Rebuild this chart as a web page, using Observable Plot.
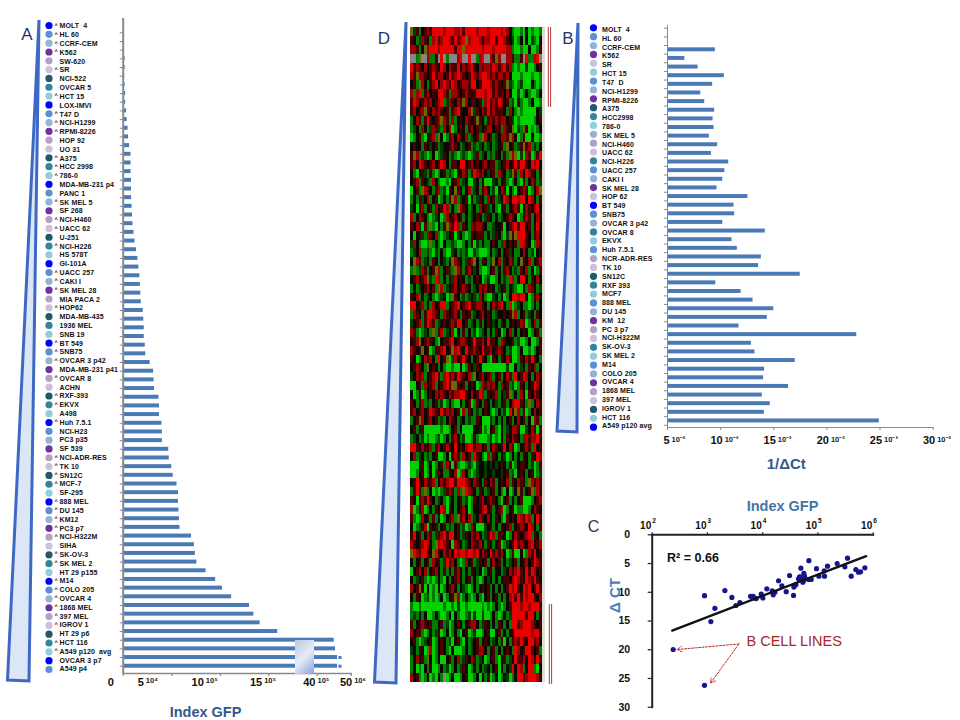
<!DOCTYPE html>
<html>
<head>
<meta charset="utf-8">
<script src="https://cdn.jsdelivr.net/npm/d3@7"></script>
<script src="https://cdn.jsdelivr.net/npm/@observablehq/plot@0.6"></script>
<style>
html,body{margin:0;padding:0;background:#fff}
#root{position:relative;width:960px;height:720px;overflow:hidden;background:#fff}
#root svg{position:absolute;left:0;top:0;overflow:visible}
#patch{position:absolute;left:295px;top:640px;width:19px;height:34px;background:linear-gradient(135deg,#b8c8e2,#e6ecf7 50%,#86a2de)}
</style>
</head>
<body>
<div id="root">
<svg id="decor" width="960" height="720">
  <g fill="#dbe6f7" stroke="#3d69c4" stroke-width="3" stroke-linejoin="miter">
    <polygon points="39,20 7.5,680 29,681"></polygon>
    <polygon points="578,23 557,431 577,432"></polygon>
    <polygon points="406,22 374.5,682 396,683"></polygon>
  </g>
  <g stroke="#b53a3a" stroke-width="1">
    <line x1="548.3" x2="548.3" y1="27" y2="107"></line><line x1="550.6" x2="550.6" y1="27" y2="107"></line>
    <line x1="549.3" x2="549.3" y1="604" y2="684"></line><line x1="551.6" x2="551.6" y1="604" y2="684"></line>
  </g>
</svg>
</div>
<script>
// ---------- Panel A data ----------
const namesA = ["MOLT  4","HL 60","CCRF-CEM","K562","SW-620","SR","NCI-522","OVCAR 5","HCT 15","LOX-IMVI","T47 D","NCI-H1299","RPMI-8226","HOP 92","UO 31","A375","HCC 2998","786-0","MDA-MB-231 p4","PANC 1","SK MEL 5","SF 268","NCI-H460","UACC 62","U-251","NCI-H226","HS 578T","GI-101A","UACC 257","CAKI I","SK MEL 28","MIA PACA 2","HOP62","MDA-MB-435","1936 MEL","SNB 19","BT 549","SNB75","OVCAR 3 p42","MDA-MB-231 p41","OVCAR 8","ACHN","RXF-393","EKVX","A498","Huh 7.5.1","NCI-H23","PC3 p35","SF 539","NCI-ADR-RES","TK 10","SN12C","MCF-7","SF-295","888 MEL","DU 145","KM12","PC3 p7","NCI-H322M","SIHA","SK-OV-3","SK MEL 2","HT 29 p155","M14","COLO 205","OVCAR 4","1868 MEL","397 MEL","IGROV 1","HT 29 p6","HCT 116","A549 p120  avg","OVCAR 3 p7","A549 p4"];
const valuesA = [0.02,0.03,0.03,0.2,0.2,0.15,0.2,0.25,0.25,0.35,0.4,0.5,0.55,0.65,0.8,0.8,0.8,0.85,0.85,0.85,0.9,0.95,1.0,1.1,1.2,1.35,1.5,1.6,1.7,1.75,1.8,1.85,2.05,2.1,2.15,2.15,2.25,2.3,2.75,3.1,3.15,3.2,3.65,3.7,3.7,3.95,4.0,4.0,4.65,4.7,4.95,5.1,5.5,5.65,5.65,5.7,5.75,5.8,7.0,7.3,7.4,7.55,8.5,9.5,10.2,11.15,13.0,13.45,14.1,19.6,45,45.4,46,46];
const outlierRowsA = ["OVCAR 3 p7","A549 p4"];
const outlierValuesA = [46.7,46.7];
const unmarkedA = ["SW-620","NCI-522","OVCAR 5","LOX-IMVI","HOP 92","UO 31","MDA-MB-231 p4","PANC 1","SF 268","U-251","HS 578T","GI-101A","MIA PACA 2","MDA-MB-435","1936 MEL","SNB 19","MDA-MB-231 p41","ACHN","A498","NCI-H23","PC3 p35","SF 539","SF-295","SIHA","HT 29 p155","HT 29 p6","OVCAR 3 p7","A549 p4"];
const ticksA = [0,5,10,15,40,50];
const tickBigA = ["0","5","10","15","40","50"];
const tickSmallA = ["","10⁴","10⁵","10⁵","10⁵","10⁶"];

// ---------- Panel B data ----------
const namesB = ["MOLT  4","HL 60","CCRF-CEM","K562","SR","HCT 15","T47  D","NCI-H1299","RPMI-8226","A375","HCC2998","786-0","SK MEL 5","NCI-H460","UACC 62","NCI-H226","UACC 257","CAKI I","SK MEL 28","HOP 62","BT 549","SNB75","OVCAR 3 p42","OVCAR 8","EKVX","Huh 7.5.1","NCR-ADR-RES","TK 10","SN12C","RXF 393","MCF7","888 MEL","DU 145","KM  12","PC 3 p7","NCI-H322M","SK-OV-3","SK MEL 2","M14","COLO 205","OVCAR 4","1868 MEL","397 MEL","IGROV 1","HCT 116","A549 p120 avg"];
const valuesB = [5.0,5.0,9.5,6.63,7.88,10.35,9.25,8.13,8.5,9.44,9.29,9.38,8.94,9.72,9.13,10.76,10.4,10.2,9.66,12.57,11.26,11.32,10.2,14.2,11.07,11.57,13.83,13.57,17.49,9.54,11.92,13.05,15.0,14.39,11.73,22.81,12.89,13.23,17.02,14.14,14.04,16.39,13.92,14.67,14.11,24.93];
const groupB = [0,1,2,3,5,8,1,2,3,6,7,8,2,4,5,7,1,2,3,5,0,1,2,7,8,1,4,5,6,7,8,1,2,3,4,5,7,8,1,2,3,4,5,6,8,0];
const ticksB = [5,10,15,20,25,30];

// ---------- Panel C data ----------
const gfpC = [885,1153,1362,2066,2767,3268,3864,6026,6730,7015,7621,9397,10070,11890,14860,15490,16600,19360,22230,26610,30620,36140,36640,39810,46450,49090,53330,54830,55590,57150,48420,44560,67610,68550,75510,94190,104000,129700,131500,148900,222800,306900,342800,399900,485300,543300,590200,706300,240,885];
const dctC = [10.6,15.1,12.8,9.7,10.9,12.3,11.8,10.7,10.7,11.0,11.1,10.3,11.0,9.4,9.75,10.45,10.0,8.0,8.9,9.9,7.1,10.55,9.1,8.7,7.3,5.8,8.24,7.95,6.7,7.2,7.37,7.66,7.78,4.5,7.78,5.9,7.2,6.27,7.2,5.46,5.0,5.57,4.06,7.2,6.04,6.5,6.44,5.75,19.96,26.2];
const trendGfp = [230,746000];
const trendDct = [16.66,3.71];
const ticksCx = [1e2,1e3,1e4,1e5,1e6];
const ticksCy = [0,5,10,15,20,25,30];
const expCx = ["2","3","4","5","6"];
const bCellArrowFrom = [3704,19.0];
const bCellArrowTo = [[283,19.96],[1137,25.8]];

// ---------- Panel D data: expression levels read by eye, one row per cell line ----------
const heatRows = [
"yedgkdrd RRRRrRRR rrRdRRRR rRRRrRRR RrRrkgGG gGkGgGGg",
"dkgerdkg rRdrRRrd RdrRyrRR RrdrrRRd RRrdkeGg kGkGegGk",
"rrdgkyrR RRrRRRRR dRRyRRRR RRrRRRrR RRRrrgGG gGGkGGgd",
"aagyaarg gdaRagaa arRaaRaa grRaardy raarrdgg daRggrRa",
"Rdrdkrkd rdkRrkrd dRkrdrRd krdrrdRr drRdrgGg GGeGGgkd",
"rdyrrdkd RdrrkdRd rRrdkdRr drRRrdrd rrdrkGGG gGGGgGGg",
"kdgyrkgd rRkrRrdR rkdrrdRR kdRRRrdr dkdyegGg eGGGkgGg",
"rgrRgdrk dkRRrdgr rdkdrdkd RRRrRRdr ddkrkGGe GgkgGGgk",
"dRrkdrdr kdrRgerd krdyrkdd kdgrRdrd RrkdgeGd gGGgkGGg",
"drkdrydk rdrdkdgd rRdkkrye dkrdRdrd ddkgrkgG gGGGGGke",
"gkrdgdRd kdryrdgr gkdkrdkd ydkgdrdr drrkdeGg GGGGGgkd",
"gekgrkge rdegrkrG gkdkgdrk dekdrrkd dgrdkyGe gydGgGgk",
"GgkdgGkd rgykGgdr krdkrgek dgyrkdge krrdyrkG gdGGkGGg",
"kdkkgdke kdgekkdr dkgekdge gekgekge kdgykdge dydrgegk",
"dyrgegGg kGgedkge gGgegGge dgekgegd kgdgyryG eGrdGgdR",
"drkRrdkd rkdRrkgd dkRRkdrk dkdrkddg ekdrkdRd RRdkRrRk",
"kgGkdegd gGgkdgeg GdkrdgdR rdrkekdg rdkgeydg rkRrdkgd",
"kdrgdkeg rkgGGgGk drgekGGe kgkGGGek gkdgGgkg Gdgkrdge",
"Gkdgyrdk gdrgeGdk ydkgkrge kgdrkgeG krdGkgGk drdGgkry",
"gkgdekrg kdGgkgdy rgekdGkg edkgrkdg ekRrkRRr RRkRrkgd",
"ekGdrgkd grkdRrgk gyrdkgek grkdegkg Gkdgkdrd GkrdkrRk",
"rgkrdkgG gekGgrkd rkdgkgek dkgedkgk gekdrdkG gdrdgkrd",
"dkreGdgy gGkgdyrd Rrgdkgrd rrdkggek kdGkdrRd RRkdgkRk",
"kGkdegrd krgGgekd GekgGgdk dddgkged kgGeydyR RRdkgdrk",
"erkgGGgy gkgGkgge gGGgkgdG egkggkdk gerkdkdg RrdkGgrd",
"gekrggeg GegkgGGe kgegeGGe gGGGgkge kgkdekgg krkgeGkd",
"kyrdgekg dkgkegky rdkgedry kgdkgeyk rgdkrdgk ydkrgkdr",
"gygerdgk dyrgkdeg yrdgdrke kgGGgkdg kgdrkgeg dkrgkGgd",
"kdrkdrye gRrgkgde rkdkgegk dkGgeGGg kgegRrgk RRkgdkrk",
"gkgekdrk dgyrgekd rkdrdkge krdrkdkg ekdgkegG Gkgrdkge",
"dkrgkgek gGgekGgy dkgegeke grkgGGek gkGgkRRr RRkGgdrk",
"RRkdrgkg rkdRRgkd rRkdrRkd rrdkgkrd rRkgRGge kggGgkgk",
"grdkgdRR rdkgrdkd rkgdkdge kdrkdkge kkdkdyrg kdgekgdk",
"ekdrgdRr dgekdkdr dRRkdgek gdgkdkek gdkgkdkd rdGgkrgd",
"rdgGgekg ygdrgekr Gkgdgkge Ggekgkgd kGgkrgkg kdkGgkdg",
"kdrykdrd kgGkddrR kdrrdkdR ddrkRddk grdkkdge GGgkGGgd",
"rdkdykdG gddrRkdy rRdkRddr dkRddrkd rdkgeGGg kGGgGgkd",
"dkGgkrdr kgRkdyGe rkdRdkgk dRdkgGdk gdkrdGGg dkrdRdkg",
"kdrdkgyk dkgkgGGg GGkGgdke dkGGGGGG GGGeGGkg ekgdkrgk",
"ekrdrgkd rRdgrRdr dRrdkrgy kdrkdrgk dgkrdgRk dRrkgkrd",
"GGkdgrkd rgkdrRdy ydkdgkdk Ggrdrdrk grkdgeGg dkgkdRrk",
"kGgdGgkd krdrdkrd rrRRdkrk dRrgdkdr gkedygkg rkGdkrdk",
"dkgdrgeg kdgeGgkg GGkgkdGg dkgdkgke gkdgkrRR dkgygkrd",
"drkdrkdR rdkRdrdr kdGrgdkg egkdkgGg kgeGRdyr gdGgkrkd",
"gkdyrkdr kdgegkrd kgekgegg dkGGGegk gkgkdgkr kdgkGrdg",
"kdgkdGGG GGGgGGgk dgkGGGGk kdGgGkdg Gkgekrrd GGekrdGd",
"gekgeGgG GgeGgkgd rkgeGGgd gGGGgeGg Gkgdkrdk grrdrrRd",
"RRdkrdkr gdrkdrdk RkdkrRRd rrkdgkrd kdRkrdGg kdrdgRkd",
"krgekgeg kdGGgkGd rdgrkdgR dkgGrgdk gkeGgkgk gdkgdkRr",
"GGGkdGgk GgkdgrkG dgGGgegG ekkekeke kdkgdGgk ddkgeGgd",
"GGgkdGgk Gedkggdk rGgrkgGg ekkekkek kekdgeGk dkgkdGge",
"kdRdkrdd rgkrdrRR dRRRrdkr dkgdkrdg kdkrgdkr dkgyrdrd",
"gdRdgygk GgGgedrd grgyRrdk gdkgekdg kgGkGgky dgkdygrd",
"dkGdrdRd kgekgGek gkdgeGgd kdrkdrdk gGkdgkgk dGGGgkdr",
"rGgdrGgk gdkRrGdk gkdrkGgk kdrRkdgk drGgkdGg gGGgkrdk",
"dgGgrkdg dgkGgkdr gydrkrge krdkrkgd kgGdkdkR rdRrgkRd",
"kGgedrGd kdgkdgeg kdgeGgrk GGGekdgk gdkdrgkd rdkRrkgd",
"dRkdgkrd gedrRdRR kdgedkrd rkgedRrg ddkGgkrd kdrRgdkg",
"rdkdrRrk gyrRrdkG rdkgekrd drkgdkgk dGgekdRd rdkrRkdr",
"yRrdRRdk yRdkrdrk RrRRrRRr RkrdkRdr drkGgdGG kGgrdRkd",
"kgkdgkdg rkdgeRdr kgGgrkdg edkdgkrk dgkgekdg kdrkdRrd",
"Gkdrkrgk drkgdgkg drkgkgdk ekGgkdgk kgekrdrR dkRdRrkd",
"kgekdgGg GgkgGkgk drkgkdgk gGgkekgk gkddkrRr dkRrdRdk",
"rkdydGkG gGkGgkdr kgkegGgk gkdkdgkg kgkdRrRd kRrRkdRd",
"kgdkGgeG gGgkGgkd yrGgkgGg kgGkdgkd gkgkrRdR dRrRRdkr",
"gGGgGGGG GGGGgGGg GeGGgGGG GGgGgGgk gGgkdRRR rRRrRRRd",
"gegkgkGG gkgGGgkG kgGGgeGe GGeGGgkg GgkgeRRR RRdRRkgd",
"dgkdrdkd ggkdgeGg kdkgkdrr kgedkgkg dkgkgRRd rRRRrdkd",
"rkddgGgk gedGgkGg kgGkdGge GGgkdGGk dgkgkdRR RRRRrRRd",
"kdgGgekd GgkdkgeG kdgGkgek dgkdkgek gdGkgdrd RdkRRdrk",
"ekgdkGyr GgkdkgGk GGGgkgek drrkgkdg kgkdkgRr kdRRdkdg",
"gkrkdgyk GgkGGkdg krgedkrd gekGgkdg GkdgekRd drkRrdRd",
"gkGgGkgd GGgkgeGg kgedkGgk gkgekgkd GkgkeRkR rgkRRgGk",
"rkdgGgkG gGkgaGgk GGgkdGGg kGkgdGgk GgkeGgkR RdrRRRrd"
];

// ---------- styles ----------
const heatPalette = {R:"#e80000",r:"#a00000",d:"#4a0000",k:"#0c0600",e:"#003e00",g:"#007c00",G:"#00d200",y:"#6a6a00",a:"#858585",p:"#dcdcd0"};
const dotPalette = ["#0000ff","#5b8fd6","#95b3d7","#7030a0","#b3a2c7","#ccc1da","#215968","#31859c","#92cddc"];
const barColor = "#4a7ab5", axisGray = "#8a8a8a";
const labelFont = "Liberation Sans";
const annotations = [
  {t:"A",x:26.5,y:27.5,s:17,c:"#1f3864",w:"normal"},
  {t:"B",x:567.5,y:31,s:17,c:"#1f3864",w:"normal"},
  {t:"D",x:383.5,y:31,s:17,c:"#1f3864",w:"normal"},
  {t:"C",x:593,y:520,s:16,c:"#1f3864",w:"normal"},
  {t:"Index GFP",x:205,y:706,s:14.5,c:"#33598f",w:"bold"},
  {t:"1/ΔCt",x:785.7,y:457.5,s:15,c:"#33598f",w:"bold"},
  {t:"Index GFP",x:782,y:500,s:14.5,c:"#4474a8",w:"bold"},
  {t:"Δ CT",x:609,y:595,s:15,c:"#4d7eb8",w:"bold",rotate:-90}
];

const root = document.getElementById("root");
const layer = (opts, css = {}) => {
  const svg = Plot.plot({width:960,height:720,margin:0,
    style:{background:"transparent",fontFamily:labelFont,...css},
    x:{axis:null},y:{axis:null},...opts});
  root.appendChild(svg);
  return svg;
};

// ---------- D: heat map ----------
const heatCells = heatRows.flatMap((row,r) => {
  const codes = row.replace(/ /g,"").padEnd(48,"k").slice(0,48) + "p";
  return Array.from(codes,(code,c)=>({row:r,col:c,code}));
});
layer({
  x:{axis:null,type:"band",domain:d3.range(49),range:[410.3,544.5],padding:0,round:false},
  y:{axis:null,type:"band",domain:d3.range(heatRows.length),range:[27.3,681.7],padding:0,round:false},
  color:{type:"identity"},
  marks:[Plot.cell(heatCells,{x:"col",y:"row",fill:d=>heatPalette[d.code],shapeRendering:"crispEdges"})]
},{filter:"blur(0.5px)"});

// ---------- rows of coloured dots and names ----------
function nameRows(names, dotX, textX, dotRange, textRange, dotFill, dotRx, extra){
  layer({marginLeft:dotX,
    y:{axis:null,type:"band",domain:names,range:dotRange,padding:0,round:false},
    color:{type:"identity"},
    marks:[Plot.dot(names,{y:d=>d,frameAnchor:"left",r:dotRx,fill:(d,i)=>dotFill(i),stroke:null})]});
  layer({marginLeft:textX,
    y:{axis:null,type:"band",domain:names,range:textRange,padding:0,round:false},
    marks:[
      Plot.text(names,{y:d=>d,frameAnchor:"left",text:d=>d,textAnchor:"start",fontSize:7,fontWeight:"bold",fill:"#111"}),
      ...(extra||[])
    ]},{letterSpacing:"0.1px"});
}
nameRows(namesA,48.5,59,[20.6,673.4],[21.3,673.1],i=>dotPalette[i%9],3.6,
  [Plot.text(namesA.filter(n=>!unmarkedA.includes(n)),{y:d=>d,frameAnchor:"left",text:()=>"^",dx:-5,dy:-1,textAnchor:"start",fontSize:5.5,fontWeight:"bold",fill:"#111"})]);
nameRows(namesB,593,601.5,[22.9,431.1],[24.9,430.1],i=>dotPalette[groupB[i]],3.6);

// ---------- A: bars ----------
const offsetsA = [-9.4,-28.4,-16.7,-6.6,-1.7,1];
layer({
  marginLeft:122.7,marginRight:960-350.7,marginTop:18,marginBottom:720-673,
  x:{axis:null,type:"linear",domain:ticksA,range:[122.7,171.7,220,268.3,316.7,350.7]},
  y:{axis:null,type:"band",domain:namesA,range:[25.63,672.4],padding:0.54,align:0.5,round:false},
  marks:[
    Plot.barX(namesA,{y:d=>d,x1:()=>0,x2:(d,i)=>valuesA[i],fill:barColor}),
    Plot.dot(outlierRowsA,{y:d=>d,x:(d,i)=>outlierValuesA[i],symbol:"square",r:1.7,fill:barColor,stroke:null}),
    Plot.axisY({anchor:"left",ticks:namesA,tickSize:3,tickFormat:()=>"",label:null,stroke:axisGray,strokeWidth:1}),
    Plot.axisX({anchor:"bottom",ticks:ticksA,tickSize:3,tickFormat:()=>"",label:null,stroke:axisGray,strokeWidth:1.2}),
    Plot.ruleX([0],{stroke:axisGray,strokeWidth:2}),
    Plot.frame({anchor:"bottom",stroke:axisGray,strokeWidth:1.5}),
    ...ticksA.map((t,i)=>Plot.text([t],{x:d=>d,frameAnchor:"bottom",text:()=>tickBigA[i],dx:offsetsA[i],dy:12,textAnchor:"end",fontSize:11,fontWeight:"bold",fill:"#111"})),
    ...ticksA.map((t,i)=>Plot.text([t],{x:d=>d,frameAnchor:"bottom",text:()=>tickSmallA[i],dx:offsetsA[i]+2,dy:9.5,textAnchor:"start",fontSize:7.5,fontWeight:"bold",fill:"#222"}))
  ]
});

// ---------- B: bars ----------
layer({
  marginLeft:667,marginRight:960-932.7,marginTop:25,marginBottom:720-427,
  x:{axis:null,type:"linear",domain:[5,30],range:[667,932.7]},
  y:{axis:null,type:"band",domain:namesB,range:[25.4,427.1],padding:0.54,align:0.5,round:false},
  marks:[
    Plot.barX(namesB,{y:d=>d,x1:()=>5,x2:(d,i)=>valuesB[i],fill:barColor}),
    Plot.axisY({anchor:"left",ticks:namesB,tickSize:3,dy:4.36,tickFormat:()=>"",label:null,stroke:axisGray,strokeWidth:1}),
    Plot.axisY({anchor:"left",ticks:namesB.slice(0,1),tickSize:3,dy:-4.36,tickFormat:()=>"",label:null,stroke:axisGray,strokeWidth:1}),
    Plot.axisX({anchor:"bottom",ticks:ticksB,tickSize:3,tickFormat:()=>"",label:null,stroke:axisGray,strokeWidth:1}),
    Plot.ruleX([5],{stroke:axisGray,strokeWidth:1}),
    Plot.frame({anchor:"bottom",stroke:axisGray,strokeWidth:1}),
    Plot.text(ticksB,{x:d=>d,frameAnchor:"bottom",text:d=>String(d),dx:2,dy:16,textAnchor:"end",fontSize:11,fontWeight:"bold",fill:"#111"}),
    Plot.text(ticksB,{x:d=>d,frameAnchor:"bottom",text:()=>"10⁻²",dx:4,dy:14,textAnchor:"start",fontSize:7.5,fontWeight:"bold",fill:"#222"})
  ]
});

// ---------- C: scatter ----------
const axisDark = "#222";
layer({
  marginLeft:651.7,marginRight:960-872.7,marginTop:534.3,marginBottom:720-706.7,
  x:{axis:null,type:"log",domain:[1e2,1e6],range:[651.7,872.7]},
  y:{axis:null,type:"linear",domain:[0,30],range:[534.3,706.7]},
  marks:[
    Plot.frame({anchor:"left",stroke:axisDark,strokeWidth:2}),
    Plot.frame({anchor:"top",stroke:axisDark,strokeWidth:2}),
    Plot.axisX({anchor:"top",ticks:ticksCx,tickSize:3,tickFormat:()=>"",label:null,stroke:axisDark,strokeWidth:1.2}),
    Plot.axisY({anchor:"left",ticks:ticksCy,tickSize:4,tickPadding:18,label:null,stroke:axisDark,strokeWidth:1.2,fontSize:10.5,fontWeight:"bold",color:"#111"}),
    Plot.text(ticksCx,{x:d=>d,frameAnchor:"top",text:()=>"10",dx:-1,dy:-13,textAnchor:"end",fontSize:10,fontWeight:"bold",fill:"#111"}),
    Plot.text(ticksCx,{x:d=>d,frameAnchor:"top",text:(d,i)=>expCx[i],dx:0,dy:-16,textAnchor:"start",fontSize:6.5,fontWeight:"bold",fill:"#111"}),
    Plot.dot(gfpC,{x:d=>d,y:(d,i)=>dctC[i],r:2.6,fill:"#16168c",stroke:null}),
    Plot.line(trendGfp,{x:d=>d,y:(d,i)=>trendDct[i],stroke:"#111",strokeWidth:2.4}),
    Plot.text(["R² = 0.66"],{x:()=>186,y:()=>4.0,textAnchor:"start",fontSize:12.5,fontWeight:"bold",fill:"#111"}),
    Plot.text(["B CELL LINES"],{x:()=>5093,y:()=>18.5,textAnchor:"start",fontSize:14.5,fill:"#a5282a",fontFamily:labelFont}),
    Plot.arrow(bCellArrowTo,{x1:()=>bCellArrowFrom[0],y1:()=>bCellArrowFrom[1],x2:d=>d[0],y2:d=>d[1],stroke:"#c0282a",strokeWidth:1,strokeDasharray:"2,1.5",headLength:8,bend:0})
  ]
});

// ---------- panel letters and axis titles ----------
layer({
  marks:[
    Plot.text(annotations,{frameAnchor:"top-left",text:"t",fontWeight:"bold",
      render:(I,scales,values,dims,ctx,next)=>{
        const g=next(I,scales,values,dims,ctx);
        g.querySelectorAll("text").forEach((n,k)=>{const a=annotations[k];
          n.setAttribute("transform",`translate(${a.x},${a.y})${a.rotate?` rotate(${a.rotate})`:""}`);
          n.setAttribute("font-size",a.s);
          n.setAttribute("font-weight",a.w);
          n.setAttribute("fill",a.c);
          n.setAttribute("text-anchor","middle");});
        return g;}
    })
  ]
});

const patch = document.createElement("div");
patch.id = "patch";
root.appendChild(patch);
</script>
</body>
</html>
